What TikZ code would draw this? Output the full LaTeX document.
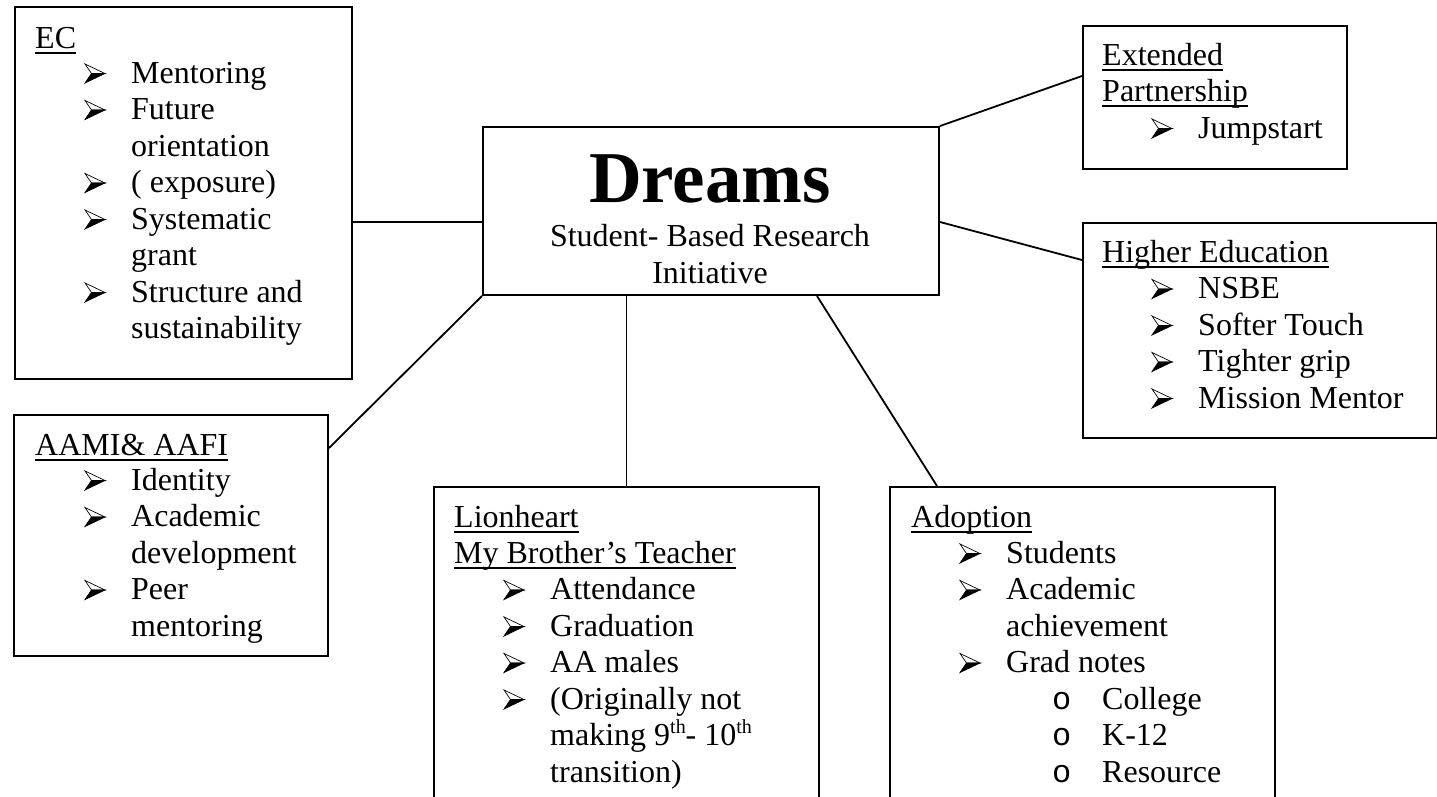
\documentclass[tikz,border=0pt]{standalone}
\usepackage{fontspec}
\setmainfont{Liberation Serif}
\newfontfamily\cbulfont{Liberation Mono}
\newcommand\myul[1]{\setbox0\hbox{#1}\rlap{\rule[-5.5pt]{\wd0}{1.6pt}}\box0}
\newcommand\sups[1]{\raisebox{12pt}{\fontsize{20}{20}\selectfont #1}}
\begin{document}
\begin{tikzpicture}[x=1pt,y=-1pt,
  box/.style={draw,line width=2pt,inner sep=0pt,anchor=north west},
  txt/.style={inner sep=0pt,anchor=base west,font=\fontsize{32}{36.5}\selectfont},
  ctxt/.style={inner sep=0pt,anchor=base,font=\fontsize{32}{36.5}\selectfont},
  link/.style={line width=1.8pt},
  arw/.pic={
    \filldraw[line width=0.7pt,fill=white,line join=miter] (0,-19)--(20,-9.5)--(6.5,-9.5)--cycle;
    \filldraw[line width=0.7pt,line join=miter] (6.5,-9.5)--(20,-9.5)--(0,0)--cycle;}]
\useasboundingbox (0,0) rectangle (1437,796);
\clip (0,0) rectangle (1437,796);
\fill[white] (0,0) rectangle (1437,796);

% boxes
\node[box,minimum width=337pt,minimum height=372pt] (ec) at (14,6) {};
\node[box,minimum width=456pt,minimum height=168pt] (dreams) at (482,126) {};
\node[box,minimum width=264pt,minimum height=143pt] (ext) at (1082,25) {};
\node[box,minimum width=354pt,minimum height=215pt] (hed) at (1082,222) {};
\node[box,minimum width=314pt,minimum height=241pt] (aami) at (13,414) {};
\node[box,minimum width=385pt,minimum height=340pt] (lion) at (433,486) {};
\node[box,minimum width=385pt,minimum height=340pt] (adop) at (889,486) {};

% connectors
\draw[link] (ec.east |- 0,222) -- (dreams.west |- 0,222);
\draw[link] (dreams.south west) -- (aami.east |- 0,448);
\draw[link] (dreams.south -| lion.north) -- (lion.north);
\draw[link] (dreams.south -| 817,0) -- (adop.north -| 937,0);
\draw[link] (dreams.north east) -- (ext.west |- 0,76);
\draw[link] (dreams.east |- 0,222) -- (hed.west |- 0,260);

% Dreams
\node[inner sep=0pt,anchor=base,font=\fontsize{73}{78}\selectfont\bfseries] (dt) at (710,202) {Dreams};
\node[ctxt] (d1) at (710,246) {Student- Based Research};
\node[ctxt] (d2) at (710,283) {Initiative};

% EC
\node[txt] (ect) at (35,48) {\myul{EC}};
\pic at (85,83) {arw};    \node[txt] (ec1) at (131,83) {Mentoring};
\pic at (85,119.5) {arw}; \node[txt] (ec2) at (131,119.5) {Future};
                          \node[txt] (ec3) at (131,156) {orientation};
\pic at (85,192.5) {arw}; \node[txt] (ec4) at (131,192.5) {( exposure)};
\pic at (85,229) {arw};   \node[txt] (ec5) at (131,229) {Systematic};
                          \node[txt] (ec6) at (131,265.5) {grant};
\pic at (85,302) {arw};   \node[txt] (ec7) at (131,302) {Structure and};
                          \node[txt] (ec8) at (131,338.5) {sustainability};

% AAMI
\node[txt] (aat) at (35,455) {\myul{AAMI\& AAFI}};
\pic at (85,490) {arw};   \node[txt] (aa1) at (131,490) {Identity};
\pic at (85,526.5) {arw}; \node[txt] (aa2) at (131,526.5) {Academic};
                          \node[txt] (aa3) at (131,563) {development};
\pic at (85,599.5) {arw}; \node[txt] (aa4) at (131,599.5) {Peer};
                          \node[txt] (aa5) at (131,636) {mentoring};

% Lionheart
\node[txt] (lt1) at (454,527) {\myul{Lionheart}};
\node[txt] (lt2) at (454,563) {\myul{My Brother’s Teacher}};
\pic at (504,599.5) {arw}; \node[txt] (l1) at (550,599.5) {Attendance};
\pic at (504,636) {arw};   \node[txt] (l2) at (550,636) {Graduation};
\pic at (504,672.5) {arw}; \node[txt] (l3) at (550,672.5) {AA males};
\pic at (504,709) {arw};   \node[txt] (l4) at (550,709) {(Originally not};
                           \node[txt] (l5) at (550,745.5) {making 9\sups{th}- 10\sups{th}};
                           \node[txt] (l6) at (550,782) {transition)};

% Adoption
\node[txt] (adt) at (911,527) {\myul{Adoption}};
\pic at (960,563) {arw};   \node[txt] (a1) at (1006,563) {Students};
\pic at (960,599.5) {arw}; \node[txt] (a2) at (1006,599.5) {Academic};
                           \node[txt] (a3) at (1006,636) {achievement};
\pic at (960,672.5) {arw}; \node[txt] (a4) at (1006,672.5) {Grad notes};
\node[txt,font=\fontsize{32}{36.5}\cbulfont] (ob1) at (1052,709) {o};   \node[txt] (a5) at (1102,709) {College};
\node[txt,font=\fontsize{32}{36.5}\cbulfont] (ob2) at (1052,745.5) {o}; \node[txt] (a6) at (1102,745.5) {K-12};
\node[txt,font=\fontsize{32}{36.5}\cbulfont] (ob3) at (1052,782) {o};   \node[txt] (a7) at (1102,782) {Resource};

% Extended Partnership
\node[txt] (ext1) at (1102,65) {\myul{Extended}};
\node[txt] (ext2) at (1102,101.5) {\myul{Partnership}};
\pic at (1152,138) {arw}; \node[txt] (e1) at (1198,138) {Jumpstart};

% Higher Education
\node[txt] (ht) at (1102,262) {\myul{Higher Education}};
\pic at (1152,298.5) {arw}; \node[txt] (h1) at (1198,298.5) {NSBE};
\pic at (1152,335) {arw};   \node[txt] (h2) at (1198,335) {Softer Touch};
\pic at (1152,371.5) {arw}; \node[txt] (h3) at (1198,371.5) {Tighter grip};
\pic at (1152,408) {arw};   \node[txt] (h4) at (1198,408) {Mission Mentor};
\end{tikzpicture}
\end{document}
